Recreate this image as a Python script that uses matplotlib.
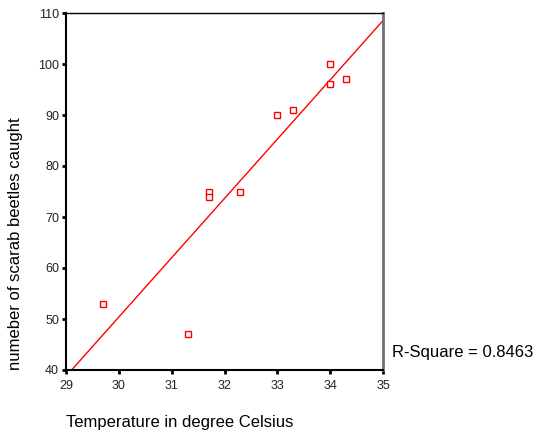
import numpy as np
import matplotlib
matplotlib.use("Agg")
import matplotlib.pyplot as plt

plt.rcParams['font.family'] = ['Liberation Sans', 'DejaVu Sans']

temperature = [29.7, 31.3, 31.7, 31.7, 32.3, 33.0, 33.3, 34.0, 34.0, 34.3]
beetles = [53, 47, 75, 74, 75, 90, 91, 100, 96, 97]
x_ticks = [29, 30, 31, 32, 33, 34, 35]
y_ticks = [40, 50, 60, 70, 80, 90, 100, 110]
r_square_label = "R-Square = 0.8463"

W, H = 536, 438
fig = plt.figure(figsize=(W / 100, H / 100), dpi=100)
ax = fig.add_axes([66 / W, 1 - 370 / H, (383 - 66) / W, (370 - 13) / H])

slope, intercept = np.polyfit(temperature, beetles, 1)
xl = np.array([29, 35])
ax.plot(xl, slope * xl + intercept, color='red', lw=1.0, zorder=2)
ax.plot(temperature, beetles, linestyle='none', marker='s', markersize=4.3,
        markerfacecolor='white', markeredgecolor='red', markeredgewidth=1.0, zorder=3)

ax.set_xlim(29, 35)
ax.set_ylim(40, 110)
ax.set_xticks(x_ticks)
ax.set_yticks(y_ticks)
ax.tick_params(direction='out', length=3, width=2, labelsize=9, pad=2, colors='black')
ax.tick_params(axis='x', pad=4)
for lbl in ax.get_xticklabels() + ax.get_yticklabels():
    lbl.set_color('#222222')

ax.spines['left'].set_linewidth(1.5)
ax.spines['bottom'].set_linewidth(1.5)
ax.spines['top'].set_linewidth(1.0)
ax.spines['right'].set_linewidth(2.0)
ax.spines['right'].set_color('#707070')

fig.text(66 / W, 1 - 423 / H, "Temperature in degree Celsius", fontsize=12,
         ha='left', va='center')
fig.text(16 / W, 1 - 370 / H, "numeber of scarab beetles caught", fontsize=12,
         rotation=90, ha='center', va='bottom')
fig.text(392 / W, 1 - 353 / H, r_square_label, fontsize=12, ha='left', va='center')

fig.savefig("out.png", dpi=100)
